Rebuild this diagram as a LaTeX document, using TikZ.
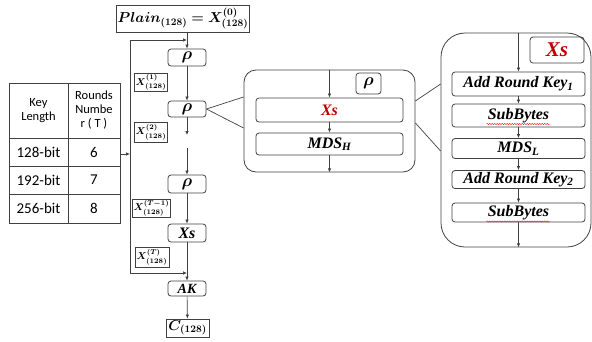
\documentclass[tikz,border=0pt]{standalone}
\usepackage[no-math]{fontspec}
\setmainfont{Liberation Serif}
\newfontfamily\tabfont{Carlito}
\usepackage{bm}
\usetikzlibrary{arrows.meta,calc,decorations.pathmorphing}
\definecolor{linegray}{HTML}{404040}
\definecolor{xsred}{HTML}{C00000}

\tikzset{
  blk/.style={draw=linegray, line width=0.8pt, rounded corners=3pt, inner sep=0pt,
    font=\fontsize{16}{18}\selectfont\bfseries\itshape},
  sqbox/.style={draw=linegray, line width=0.8pt, inner sep=1pt},
  lbl/.style={sqbox, font=\fontsize{10}{11}\selectfont},
  bigbox/.style={draw=linegray, line width=0.8pt, inner sep=0pt},
  wire/.style={draw=linegray, line width=0.7pt},
  flow/.style={wire, -{Latex[length=4pt,width=3.5pt]}},
  tabhead/.style={font=\tabfont\fontsize{12.5}{14}\selectfont, align=center, inner sep=0pt},
  tabtxt/.style={font=\tabfont\fontsize{15}{17}\selectfont, inner sep=0pt},
  spell/.style={draw=red, line width=0.4pt, decorate,
    decoration={snake, amplitude=0.6pt, segment length=2.5pt}},
}

\begin{document}
\begin{tikzpicture}[x=1pt,y=-1pt]
\useasboundingbox (0,0) rectangle (592,341);

%table
\draw[wire] (9,83) rectangle (120,223);
\draw[wire] (68,83)--(68,223);
\foreach \y in {138,166,194}{
	\draw[wire] (9,\y)--(120,\y);
}
\node[tabhead] (keyhead) at (38.5,110.5) {Key\\Length};
\node[tabhead] (roundhead) at (94,110.5) {Rounds\\Numbe\\r ( T )};
\foreach \k/\r [count=\i] in {128/6,192/7,256/8}{
	\node[tabtxt] (key\i) at (38.5,124+28*\i) {\k-bit};
	\node[tabtxt] (round\i) at (94,124+28*\i) {\r};
}
\coordinate (tabout) at (120,154);
\coordinate (fbmid) at (130,154);
\draw[flow] (tabout)--(fbmid);

%main rounds
\node[sqbox, minimum width=132, minimum height=27, font=\fontsize{14}{16}\selectfont] (plain) at (183,18.5) {$\bm{Plain_{(128)}=X^{(0)}_{(128)}}$};
\node[blk, minimum width=38, minimum height=17] (rho1) at (187,57.5) {$\bm{\rho}$};
\node[blk, minimum width=38, minimum height=16] (rho2) at (187,109) {$\bm{\rho}$};
\node[blk, minimum width=38, minimum height=18] (rho3) at (187,184) {$\bm{\rho}$};
\node[blk, minimum width=38, minimum height=18] (xs) at (187,233) {Xs};
\node[blk, minimum width=38, minimum height=15, font=\fontsize{14}{16}\selectfont\bfseries\itshape] (ak) at (187,288.5) {AK};
\node[sqbox, minimum width=43, minimum height=18, font=\fontsize{14}{16}\selectfont] (cout) at (187.5,328) {$\bm{C_{(128)}}$};

\coordinate (gaptop) at (187,135);
\coordinate (gapbot) at (187,148);
\draw[flow] (plain.south -| rho1.north)--(rho1);
\draw[flow] (rho1)--(rho2);
\draw[flow] (rho2)--(gaptop);
\draw[flow] (gapbot)--(rho3);
\draw[flow] (rho3)--(xs);
\draw[flow] (xs)--(ak);
\draw[flow] (ak)--(cout);

%feedback
\coordinate (fbtop) at (130,40);
\coordinate (fbbot) at (130,273);
\draw[wire] (fbtop)--(fbbot);
\draw[flow] (fbtop)--(fbtop -| rho1);
\draw[flow] (fbbot)--(fbbot -| ak);

%state labels
\node[lbl, minimum width=32, minimum height=15] (x1) at (151,82.5) {$\bm{X^{(1)}_{(128)}}$};
\node[lbl, minimum width=32, minimum height=20] (x2) at (151,132) {$\bm{X^{(2)}_{(128)}}$};
\node[lbl, minimum width=35, minimum height=18] (xT1) at (151.5,208) {$\bm{X^{(T-1)}_{(128)}}$};
\node[lbl, minimum width=34, minimum height=20] (xT) at (152,257) {$\bm{X^{(T)}_{(128)}}$};

%rho
\node[bigbox, rounded corners=12pt, minimum width=171, minimum height=102] (rhobox) at (329.5,121) {};
\node[blk, minimum width=25, minimum height=21] (rhotag) at (368.5,83.5) {$\bm{\rho}$};
\node[blk, minimum width=147, minimum height=24, text=xsred] (rxs) at (329.5,110) {Xs};
\node[blk, minimum width=147, minimum height=22] (mdsh) at (329.5,144) {MDS\textsubscript{H}};
\draw[flow] (rxs |- rhobox.north)--(rxs);
\draw[flow] (rxs)--(mdsh);
\draw[flow] (mdsh)--(mdsh |- rhobox.south);
\draw[wire] (rho2.east)--($(rhobox.west)+(0,-24)$);
\draw[wire] (rho2.east)--($(rhobox.west)+(0,7)$);

%Xs
\node[bigbox, rounded corners=24pt, minimum width=150, minimum height=214] (xsbox) at (516,140) {};
\node[blk, minimum width=54, minimum height=26, text=xsred, font=\fontsize{21}{23}\selectfont\bfseries\itshape] (xstag) at (557,50) {Xs};
\node[blk, minimum width=133, minimum height=24] (ark1) at (518.5,84) {Add Round Key\textsubscript{1}};
\node[blk, minimum width=133, minimum height=23] (sb1) at (518.5,115.5) {SubBytes};
\node[blk, minimum width=133, minimum height=20] (mdsl) at (518.5,148.5) {MDS\textsubscript{L}};
\node[blk, minimum width=133, minimum height=18] (ark2) at (518.5,179.5) {Add Round Key\textsubscript{2}};
\node[blk, minimum width=133, minimum height=19] (sb2) at (518.5,212.5) {SubBytes};
\draw[flow] (ark1 |- xsbox.north)--(ark1);
\draw[flow] (ark1)--(sb1);
\draw[flow] (sb1)--(mdsl);
\draw[flow] (mdsl)--(ark2);
\draw[flow] (ark2)--(sb2);
\draw[flow] (sb2)--(sb2 |- xsbox.south);
\draw[wire] ($(rhobox.east)+(0,-20)$)--($(xsbox.west)+(0,-56)$);
\draw[wire] ($(rhobox.east)+(0,2)$)--($(xsbox.west)+(0,11)$);

%spell marks
\draw[spell] ($(sb1.center)+(-32,8.5)$)--++(63,0);
\draw[spell] ($(sb2.center)+(-32,9)$)--++(63,0);

\end{tikzpicture}
\end{document}
